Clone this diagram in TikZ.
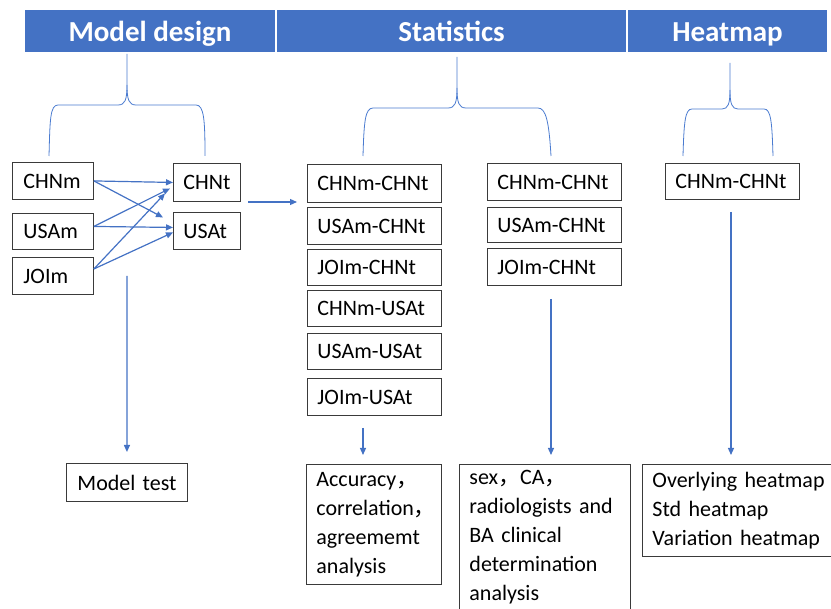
\documentclass[tikz,border=0pt]{standalone}
\usepackage{fontspec}
\setmainfont{Carlito}
\newfontfamily\cjk{Noto Sans CJK SC}
\usetikzlibrary{arrows.meta}
\definecolor{hdr}{HTML}{4472C4}
\definecolor{arr}{HTML}{4472C4}
\definecolor{brc}{HTML}{4A7BD0}
\definecolor{bord}{HTML}{3A3A3A}
\begin{document}
\begin{tikzpicture}[x=1pt,y=-1pt,
  box/.style={draw=bord, line width=0.9pt, font=\fontsize{22}{29}\selectfont, inner sep=0pt, anchor=north west},
  sbox/.style 2 args={box, align=left, inner xsep=10pt, text width=#1, minimum height=#2},
  mbox/.style={box, align=left, inner xsep=10pt, inner ysep=6pt},
  hdrbox/.style={fill=hdr, draw=none, inner sep=0pt, anchor=north west, minimum height=42pt},
  hdrtxt/.style={text=white, font=\bfseries\fontsize{29}{34}\selectfont, inner sep=0pt, anchor=base},
  link/.style={draw=arr, line width=1.2pt, -{Triangle[length=7pt,width=6pt]}},
  brace/.style={draw=brc, line width=0.8pt}]
\useasboundingbox (0,0) rectangle (831,609);
\clip (0,0) rectangle (831,609);
% headers
\node[hdrbox, minimum width=250pt] (hMD) at (25,10) {};
\node[hdrbox, minimum width=349pt] (hST) at (277,10) {};
\node[hdrbox, minimum width=199pt] (hHM) at (628,10) {};
\node[hdrtxt] (lMD) at (150,42) {Model design};
\node[hdrtxt] (lST) at (451.5,42) {Statistics};
\node[hdrtxt] (lHM) at (727.5,42) {Heatmap};
% braces
\draw[brace] (49,156) .. controls (50,120) and (50,105) .. (58,105) -- (118,105) .. controls (125,105) and (127,100) .. (127,85) -- (127,54);
\draw[brace] (127,85) .. controls (127,100) and (129,105) .. (136,105) -- (196,105) .. controls (204,105) and (205,120) .. (205,156);
\draw[brace] (363,156) .. controls (364,122) and (365,108) .. (373,108) -- (448,108) .. controls (455,108) and (457,103) .. (457,88) -- (457,57);
\draw[brace] (457,88) .. controls (457,103) and (459,108) .. (466,108) -- (538,108) .. controls (546,108) and (549,122) .. (551,156);
\draw[brace] (683,156) .. controls (684,122) and (685,109) .. (692,109) -- (722,109) .. controls (728,109) and (730,104) .. (730,90) -- (730,63);
\draw[brace] (730,90) .. controls (730,104) and (732,109) .. (738,109) -- (764,109) .. controls (771,109) and (772,122) .. (773,156);
% model design boxes
\node[sbox={59pt}{37pt}, inner xsep=11pt] (CHNm) at (12,162) {CHNm};
\node[sbox={59pt}{36pt}, inner xsep=11pt] (USAm) at (12,213) {USAm};
\node[sbox={59pt}{37pt}, inner xsep=11pt] (JOIm) at (12,257) {JOIm};
\node[sbox={47pt}{38pt}] (CHNt) at (173,163) {CHNt};
\node[sbox={47pt}{37pt}] (USAt) at (173,212) {USAt};
\node[sbox={99pt}{38pt}, inner xsep=11pt] (mtest) at (66,463) {\mbox{Model test}};
% statistics column 1
\node[sbox={114pt}{38pt}] (s1) at (307,164) {CHNm-CHNt};
\node[sbox={114pt}{37pt}] (s2) at (307,207) {USAm-CHNt};
\node[sbox={114pt}{36pt}] (s3) at (307,249) {JOIm-CHNt};
\node[sbox={114pt}{36pt}] (s4) at (307,290) {CHNm-USAt};
\node[sbox={114pt}{36pt}] (s5) at (307,333) {USAm-USAt};
\node[sbox={114pt}{37pt}] (s6) at (307,378) {JOIm-USAt};
% statistics column 2
\node[sbox={114pt}{37pt}] (t1) at (487,163) {CHNm-CHNt};
\node[sbox={114pt}{35pt}] (t2) at (487,207) {USAm-CHNt};
\node[sbox={114pt}{37pt}] (t3) at (487,248) {JOIm-CHNt};
% heatmap
\node[sbox={114pt}{36pt}] (h1) at (665,163) {CHNm-CHNt};
% result boxes
\node[mbox, text width=115pt, minimum height=120pt] (acc) at (306,464) {Accuracy{\cjk ，}\\correlation{\cjk ，}\\agreememt\\analysis};
\node[mbox, text width=151pt] (sex) at (459,464) {sex{\cjk ，}CA{\cjk ，}\\radiologists and\\BA clinical\\determination\\analysis};
\node[mbox, text width=200pt, minimum height=92pt] (ovl) at (642,464) {Overlying heatmap\\Std heatmap\\Variation heatmap};
% connectors in model design
\draw[link] (CHNm.east) -- (CHNt.west);
\draw[link] (CHNm.east) -- ([xshift=-10pt,yshift=13.5pt]USAt.west);
\draw[link] ([yshift=5pt]USAm.east) -- ([xshift=-3pt,yshift=-6pt]CHNt.west);
\draw[link] ([yshift=5pt]USAm.east) -- ([yshift=3.5pt]USAt.west);
\draw[link] ([yshift=7pt]JOIm.east) -- ([xshift=-8pt,yshift=-11pt]CHNt.west);
\draw[link] ([yshift=7pt]JOIm.east) -- ([yshift=-1.5pt]USAt.west);
% other arrows
\coordinate (la1) at (248,202);
\coordinate (la2) at (297,202);
\draw[link] (la1) -- (la2);
\coordinate (d1a) at (127,276);
\draw[link] (d1a) -- ([yshift=11pt]mtest.north);
\coordinate (d2a) at (363,428);
\coordinate (d2b) at (363,455);
\draw[link] (d2a) -- (d2b);
\coordinate (d3a) at (551,299);
\coordinate (d3b) at (551,455);
\draw[link] (d3a) -- (d3b);
\coordinate (d4a) at (731,212);
\coordinate (d4b) at (731,455);
\draw[link] (d4a) -- (d4b);
\end{tikzpicture}
\end{document}
